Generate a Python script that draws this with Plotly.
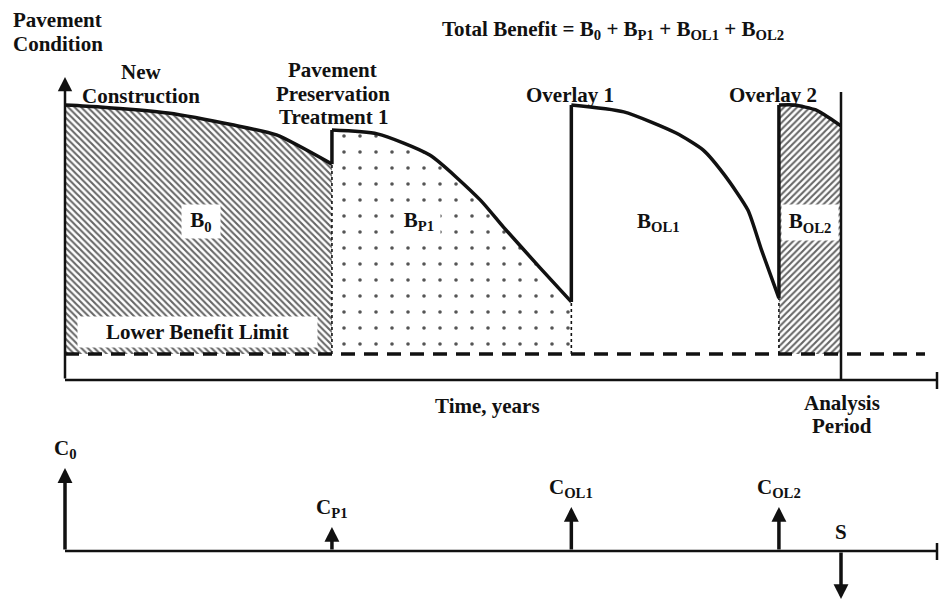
import plotly.graph_objects as go

# ---------------- data ----------------
# Pavement condition history (time in years, condition index)
t_new = [0.0, 1.8, 5.3, 8.7, 10.9, 13.76]
c_new = [100, 99.3, 97.1, 92.7, 89.1, 78.5]
t_pres = [13.76, 16.1, 18.8, 21.4, 22.6, 24.5, 26.1]
c_pres = [90.9, 89.5, 81.8, 65.5, 55.6, 40.7, 28.4]
t_ol1 = [26.1, 28.8, 31.5, 32.9, 34.0, 35.2, 35.9, 36.8]
c_ol1 = [100, 97.5, 89.8, 83.6, 74.5, 61.8, 47.3, 29.8]
t_ol2 = [36.8, 37.6, 38.7, 39.4, 40.0]
c_ol2 = [100, 100, 98.2, 95.3, 92.4]
lower_limit = 9.5
analysis_period = 40.0

# Cash flows (time in years, relative amount; negative = salvage value)
cost_times = [0.0, 13.76, 26.1, 36.8, 40.0]
cost_values = [83, 24, 44, 44, -48]
cost_labels = ["C<sub>0</sub>", "C<sub>P1</sub>", "C<sub>OL1</sub>", "C<sub>OL2</sub>", "S"]

# ---------------- layout geometry ----------------
W, H = 939, 600
X0_PX, PX_PER_YEAR = 65, 19.4
Y0_PX, PX_PER_COND = 380, 2.75
Y2_0_PX, PX_PER_COST = 551, 1.0

def tx(px):
    return (px - X0_PX) / PX_PER_YEAR

def cy(py):
    return (Y0_PX - py) / PX_PER_COND

def cy2(py):
    return (Y2_0_PX - py) / PX_PER_COST

FONT = "Liberation Serif"
FS = 21
BLACK = "#111111"
t_axis_end = tx(937)
t_dash_end = tx(925)

fig = go.Figure()

def region(ts, cs, pattern):
    # invisible baseline at the lower benefit limit
    fig.add_trace(go.Scatter(x=[ts[0], ts[-1]], y=[lower_limit, lower_limit],
                             mode="lines", line=dict(width=0), hoverinfo="skip",
                             showlegend=False))
    kw = {}
    if pattern is not None:
        kw = dict(fill="tonexty", fillcolor="rgba(255,255,255,0)",
                  fillpattern=pattern)
    fig.add_trace(go.Scatter(x=ts, y=cs, mode="lines",
                             line=dict(color=BLACK, width=3.5, shape="spline", smoothing=0.6),
                             hoverinfo="skip", showlegend=False, **kw))

pat_back = dict(shape="\\", fgcolor="#666666", bgcolor="white", size=4.6,
                solidity=0.45, fillmode="replace")
pat_fwd = dict(shape="/", fgcolor="#666666", bgcolor="white", size=4.6,
               solidity=0.45, fillmode="replace")
pat_dot = dict(shape=".", fgcolor="#555555", bgcolor="white", size=16,
               solidity=0.04, fillmode="replace")

region(t_new, c_new, pat_back)
region(t_pres, c_pres, pat_dot)
region(t_ol1, c_ol1, None)
region(t_ol2, c_ol2, pat_fwd)

# dotted boundaries between the benefit areas
for t_b, c_b in [(t_new[-1], c_new[-1]), (t_pres[-1], c_pres[-1]), (t_ol1[-1], c_ol1[-1])]:
    fig.add_trace(go.Scatter(x=[t_b, t_b], y=[lower_limit, c_b], mode="lines",
                             line=dict(color=BLACK, width=1.6, dash="dot"),
                             hoverinfo="skip", showlegend=False))

# vertical jumps (treatments)
for (t_a, c_a), (t_b, c_b) in [((t_new[-1], c_new[-1]), (t_pres[0], c_pres[0])),
                               ((t_pres[-1], c_pres[-1]), (t_ol1[0], c_ol1[0])),
                               ((t_ol1[-1], c_ol1[-1]), (t_ol2[0], c_ol2[0]))]:
    fig.add_trace(go.Scatter(x=[t_a, t_b], y=[c_a, c_b], mode="lines",
                             line=dict(color=BLACK, width=3.5),
                             hoverinfo="skip", showlegend=False))

# lower benefit limit (dashed)
fig.add_trace(go.Scatter(x=[0, t_dash_end], y=[lower_limit, lower_limit], mode="lines",
                         line=dict(color=BLACK, width=3.5, dash="14px,9px"),
                         hoverinfo="skip", showlegend=False))

# analysis period line
fig.add_trace(go.Scatter(x=[analysis_period, analysis_period], y=[0, cy(92)], mode="lines",
                         line=dict(color=BLACK, width=2.5),
                         hoverinfo="skip", showlegend=False))

# time axis (top) + end tick
fig.add_trace(go.Scatter(x=[0, t_axis_end], y=[0, 0], mode="lines",
                         line=dict(color=BLACK, width=2.5), hoverinfo="skip", showlegend=False))
fig.add_trace(go.Scatter(x=[t_axis_end, t_axis_end], y=[cy(372), cy(389)], mode="lines",
                         line=dict(color=BLACK, width=2.5), hoverinfo="skip", showlegend=False))

# cash-flow axis (bottom) + end tick
fig.add_trace(go.Scatter(x=[0, t_axis_end], y=[0, 0], yaxis="y2", mode="lines",
                         line=dict(color=BLACK, width=2.5), hoverinfo="skip", showlegend=False))
fig.add_trace(go.Scatter(x=[t_axis_end, t_axis_end], y=[cy2(543), cy2(560)], yaxis="y2", mode="lines",
                         line=dict(color=BLACK, width=2.5), hoverinfo="skip", showlegend=False))

annotations = []

# condition axis arrow
annotations.append(dict(x=0, y=cy(77), ax=0, ay=0, xref="x", yref="y", axref="x", ayref="y",
                        text="", showarrow=True, arrowhead=2, arrowwidth=2.5, arrowsize=1.15,
                        arrowcolor=BLACK))

# cash-flow arrows and labels
for t_c, v, lab in zip(cost_times, cost_values, cost_labels):
    annotations.append(dict(x=t_c, y=v, ax=t_c, ay=0, xref="x", yref="y2", axref="x", ayref="y2",
                            text="", showarrow=True, arrowhead=2, arrowwidth=3.5, arrowsize=0.85,
                            arrowcolor=BLACK))
    annotations.append(dict(x=t_c, y=max(v, 0), xref="x", yref="y2", text="<b>" + lab + "</b>",
                            showarrow=False, yanchor="middle", yshift=19,
                            font=dict(family=FONT, size=FS, color=BLACK)))

def label(text, px, py, size=FS, **extra):
    d = dict(x=tx(px), y=cy(py), xref="x", yref="y", text="<b>" + text + "</b>",
             showarrow=False, xanchor="center", yanchor="middle",
             font=dict(family=FONT, size=size, color=BLACK))
    d.update(extra)
    annotations.append(d)

label("Pavement", 57.5, 20)
label("Condition", 58, 44)
label("New", 141, 72)
label("Construction", 141, 96)
label("Pavement", 332, 70)
label("Preservation", 333, 94)
label("Treatment 1", 333, 117)
label("Overlay 1", 570, 95)
label("Overlay 2", 773, 95)
label("Total Benefit = B<sub>0</sub> + B<sub>P1</sub> + B<sub>OL1</sub> + B<sub>OL2</sub>", 613, 30)
label("Time, years", 487, 406)
label("Analysis", 842, 403)
label("Period", 842, 426)

label("B<sub>0</sub>", 201, 221, bgcolor="white", width=38, height=33, borderpad=0)
label("B<sub>P1</sub>", 419, 221, bgcolor="white", width=42, height=36, borderpad=0)
label("B<sub>OL1</sub>", 658, 222)
label("B<sub>OL2</sub>", 810, 222, bgcolor="white", width=56, height=35, borderpad=0)
label("Lower Benefit Limit", 197.5, 332, bgcolor="white", width=239, height=30, borderpad=0)

fig.update_layout(
    width=W, height=H, autosize=False,
    margin=dict(l=0, r=0, t=0, b=0),
    paper_bgcolor="white", plot_bgcolor="white",
    showlegend=False,
    xaxis=dict(range=[tx(0), tx(W)], visible=False, fixedrange=True),
    yaxis=dict(range=[cy(H), cy(0)], visible=False, fixedrange=True),
    yaxis2=dict(range=[cy2(H), cy2(0)], visible=False, overlaying="y", fixedrange=True),
    annotations=annotations,
)

fig.write_html("out.html",
               config={"displayModeBar": False},
               post_script="document.body.style.margin='0px';document.body.style.overflow='hidden';")
